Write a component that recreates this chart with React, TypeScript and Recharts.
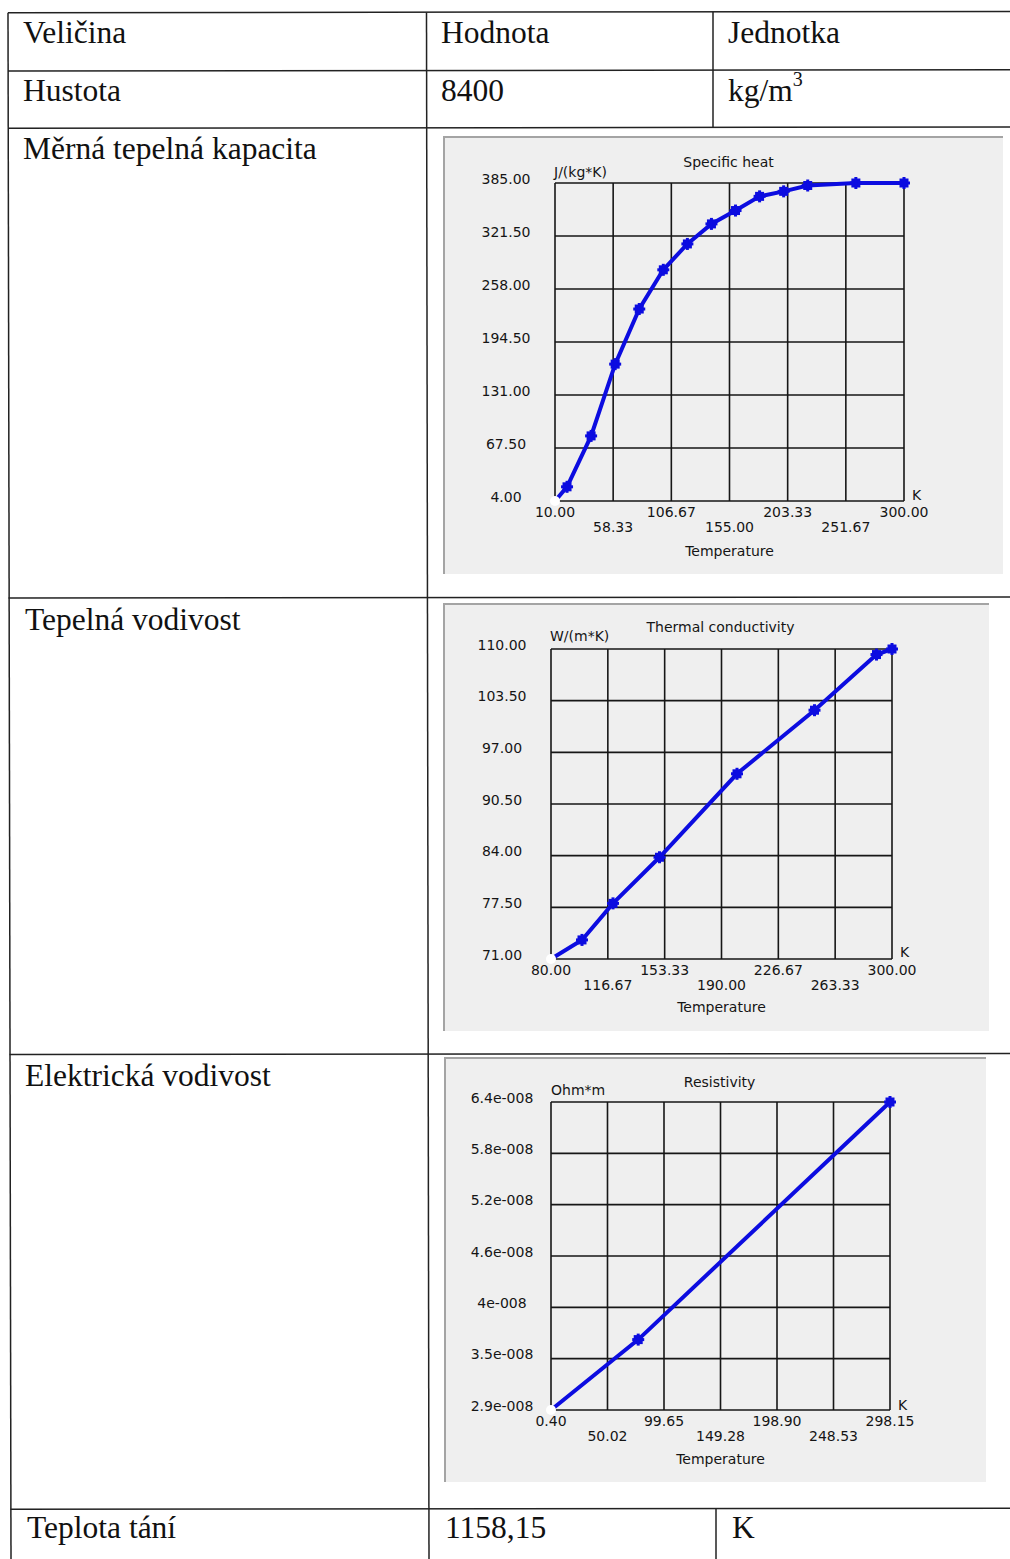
import React from 'react';
import { LineChart, Line, XAxis, YAxis, CartesianGrid } from 'recharts';

// ---------- data ----------
const heatTemps = [10, 20, 40, 60, 80, 100, 120, 140, 160, 180, 200, 220, 260, 300];
const heatValues = [4, 21, 82, 168, 234, 281, 312, 336, 352, 369, 375, 382, 385, 385];
const heatXTicks = [10, 58.33, 106.67, 155, 203.33, 251.67, 300];
const heatYTicks = [4, 67.5, 131, 194.5, 258, 321.5, 385];

const condTemps = [80, 100, 120, 150, 200, 250, 290, 300];
const condValues = [71, 73.4, 78, 83.8, 94.3, 102.3, 109.3, 110];
const condXTicks = [80, 116.67, 153.33, 190, 226.67, 263.33, 300];
const condYTicks = [71, 77.5, 84, 90.5, 97, 103.5, 110];

const resTemps = [0.4, 77, 298.15];
const resValues = [2.9e-8, 3.7e-8, 6.4e-8];
const resXTicks = [0.4, 50.02, 99.65, 149.28, 198.9, 248.53, 298.15];
const resYTicks = [2.9e-8, 3.4833e-8, 4.0667e-8, 4.65e-8, 5.2333e-8, 5.8167e-8, 6.4e-8];
const resYLabels = ['2.9e-008', '3.5e-008', '4e-008', '4.6e-008', '5.2e-008', '5.8e-008', '6.4e-008'];

const tableRows = [
  ['Veličina', 'Hodnota', 'Jednotka'],
  ['Hustota', '8400', 'kg/m'],
  ['Měrná tepelná kapacita'],
  ['Tepelná vodivost'],
  ['Elektrická vodivost'],
  ['Teplota tání', '1158,15', 'K'],
];

const chartTitles = ['Specific heat', 'Thermal conductivity', 'Resistivity'];
const chartUnits = ['J/(kg*K)', 'W/(m*K)', 'Ohm*m'];
const xUnit = 'K';
const xTitle = 'Temperature';

// ---------- styles ----------
const BLUE = '#0c0ce0';
const TXT = '#151515';
const CHART_FONT = '"DejaVu Sans", Verdana, sans-serif';
const SERIF = '"Liberation Serif", "Times New Roman", serif';

const Marker = (props: any) => {
  const { cx, cy, index } = props;
  if (cx == null || cy == null) return null;
  if (index === 0) return <circle key={`m${index}`} cx={cx} cy={cy} r={5} fill="#ffffff" />;
  return (
    <g key={`m${index}`}>
      <rect x={cx - 4.5} y={cy - 4.5} width={9} height={9} fill={BLUE} />
      <rect x={cx - 6} y={cy - 1.5} width={12} height={3} fill={BLUE} />
      <rect x={cx - 1.5} y={cy - 6} width={3} height={12} fill={BLUE} />
    </g>
  );
};

type PanelProps = {
  left: number; top: number; width: number; height: number;
  plot: { left: number; top: number; width: number; height: number };
  data: { t: number; v: number }[];
  xTicks: number[]; yTicks: number[];
  xFmt: (v: number, i: number) => string;
  yFmt: (v: number, i: number) => string;
  title: string; unit: string;
  titlePos: [number, number]; unitPos: [number, number]; kPos: [number, number]; tempPos: [number, number];
};

const ChartPanel = (p: PanelProps) => {
  const right = p.width - p.plot.left - p.plot.width;
  const bottom = p.height - p.plot.top - p.plot.height;
  const XTick = (props: any) => {
    const { x, y, payload, index } = props;
    const dy = index % 2 === 0 ? 10.5 : 26;
    return (
      <text x={x} y={y + dy} textAnchor="middle" dominantBaseline="central"
        fontFamily={CHART_FONT} fontSize={14} fill={TXT}>
        {p.xFmt(payload.value, index)}
      </text>
    );
  };
  const YTick = (props: any) => {
    const { x, y, payload, index } = props;
    return (
      <text x={x - 49} y={y - 4.5} textAnchor="middle" dominantBaseline="central"
        fontFamily={CHART_FONT} fontSize={14} fill={TXT}>
        {p.yFmt(payload.value, index)}
      </text>
    );
  };
  return (
    <div style={{
      position: 'absolute', left: p.left, top: p.top, width: p.width, height: p.height,
      background: '#efefef', boxShadow: 'inset 2px 2px 0 #a4a4a4',
    }}>
      <LineChart width={p.width} height={p.height} data={p.data}
        margin={{ top: p.plot.top, right, left: 0, bottom: 0 }}>
        <CartesianGrid stroke="#161616" strokeWidth={1.6} fill="#efefef" />
        <XAxis dataKey="t" type="number" domain={[p.xTicks[0], p.xTicks[p.xTicks.length - 1]]}
          ticks={p.xTicks} interval={0} height={bottom} axisLine={false} tickLine={false}
          tickSize={0} tickMargin={0} tick={XTick} />
        <YAxis dataKey="v" type="number" domain={[p.yTicks[0], p.yTicks[p.yTicks.length - 1]]}
          ticks={p.yTicks} interval={0} width={p.plot.left} axisLine={false} tickLine={false}
          tickSize={0} tickMargin={0} tick={YTick} />
        <Line type="linear" dataKey="v" stroke={BLUE} strokeWidth={4} dot={Marker}
          activeDot={false} isAnimationActive={false} />
      </LineChart>
      <svg width={p.width} height={p.height}
        style={{ position: 'absolute', left: 0, top: 0, pointerEvents: 'none' }}
        fontFamily={CHART_FONT} fontSize={14} fill={TXT}>
        <text x={p.titlePos[0]} y={p.titlePos[1]} textAnchor="middle" dominantBaseline="central">{p.title}</text>
        <text x={p.unitPos[0]} y={p.unitPos[1]} textAnchor="start" dominantBaseline="central">{p.unit}</text>
        <text x={p.kPos[0]} y={p.kPos[1]} textAnchor="start" dominantBaseline="central">{xUnit}</text>
        <text x={p.tempPos[0]} y={p.tempPos[1]} textAnchor="middle" dominantBaseline="central">{xTitle}</text>
      </svg>
    </div>
  );
};

const zip = (ts: number[], vs: number[]) => ts.map((t, i) => ({ t, v: vs[i] }));

export default function App() {
  const fs = 31.5;
  const lineC = '#222';
  return (
    <div style={{ position: 'absolute', left: 0, top: 0, width: 1010, height: 1559, background: '#fff', overflow: 'hidden' }}>
      <svg width={1010} height={1559} style={{ position: 'absolute', left: 0, top: 0 }}>
        <g stroke={lineC} strokeWidth={1.5}>
          <line x1={8} y1={12.7} x2={1010} y2={11.5} />
          <line x1={8} y1={71} x2={1010} y2={69.8} />
          <line x1={8} y1={128.3} x2={1010} y2={127} />
          <line x1={8.5} y1={598} x2={1010} y2={597} />
          <line x1={9.5} y1={1054.5} x2={1010} y2={1053.5} />
          <line x1={10.5} y1={1509.3} x2={1010} y2={1508.3} />
          <line x1={8} y1={12.7} x2={11} y2={1559} />
          <line x1={426.5} y1={12.5} x2={429} y2={1559} />
          <line x1={713} y1={12} x2={713} y2={128} />
          <line x1={716} y1={1509} x2={716} y2={1559} />
        </g>
        <g fontFamily={SERIF} fontSize={fs} fill="#111">
          <text x={23} y={43}>{tableRows[0][0]}</text>
          <text x={441} y={43}>{tableRows[0][1]}</text>
          <text x={728} y={43}>{tableRows[0][2]}</text>
          <text x={23} y={101}>{tableRows[1][0]}</text>
          <text x={441} y={101}>{tableRows[1][1]}</text>
          <text x={728} y={101}>{tableRows[1][2]}<tspan dy={-15} fontSize={20}>3</tspan></text>
          <text x={23} y={159}>{tableRows[2][0]}</text>
          <text x={25} y={630}>{tableRows[3][0]}</text>
          <text x={25} y={1086}>{tableRows[4][0]}</text>
          <text x={27} y={1538}>{tableRows[5][0]}</text>
          <text x={445} y={1538}>{tableRows[5][1]}</text>
          <text x={732} y={1538}>{tableRows[5][2]}</text>
        </g>
      </svg>

      <ChartPanel left={443} top={136} width={560} height={438}
        plot={{ left: 112, top: 47, width: 349, height: 318 }}
        data={zip(heatTemps, heatValues)} xTicks={heatXTicks} yTicks={heatYTicks}
        xFmt={(v) => v.toFixed(2)} yFmt={(v) => v.toFixed(2)}
        title={chartTitles[0]} unit={chartUnits[0]}
        titlePos={[285.5, 26.3]} unitPos={[111, 35.7]} kPos={[469, 359]} tempPos={[286.5, 414.7]} />

      <ChartPanel left={443} top={602.5} width={546} height={428}
        plot={{ left: 108, top: 46, width: 341, height: 310 }}
        data={zip(condTemps, condValues)} xTicks={condXTicks} yTicks={condYTicks}
        xFmt={(v) => v.toFixed(2)} yFmt={(v) => v.toFixed(2)}
        title={chartTitles[1]} unit={chartUnits[1]}
        titlePos={[277.5, 24.2]} unitPos={[107, 32.5]} kPos={[457, 348.5]} tempPos={[278.5, 403.5]} />

      <ChartPanel left={444} top={1056.5} width={542} height={425}
        plot={{ left: 107, top: 45, width: 339, height: 308 }}
        data={zip(resTemps, resValues)} xTicks={resXTicks} yTicks={resYTicks}
        xFmt={(v) => v.toFixed(2)} yFmt={(_v, i) => resYLabels[i]}
        title={chartTitles[2]} unit={chartUnits[2]}
        titlePos={[275.6, 24.5]} unitPos={[107, 32.8]} kPos={[454, 347.5]} tempPos={[276.5, 401.8]} />
    </div>
  );
}
